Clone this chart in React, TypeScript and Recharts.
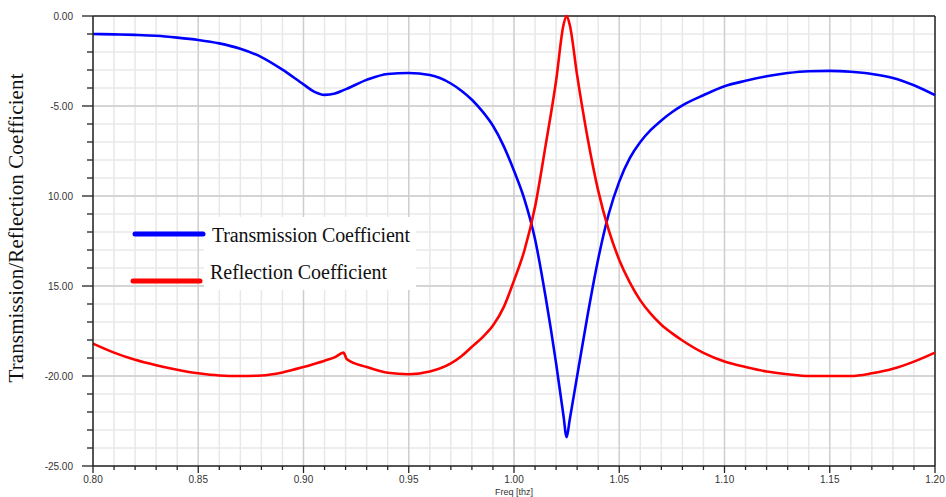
import React from 'react';
import { LineChart, Line, XAxis, YAxis, CartesianGrid, Legend, ReferenceLine } from 'recharts';

// frequency in THz
const freq = [
  0.8, 0.81, 0.82, 0.83, 0.84, 0.85, 0.86, 0.87, 0.88, 0.89, 0.9, 0.905, 0.91, 0.915, 0.919, 0.9205,
  0.93, 0.94, 0.95, 0.96, 0.97, 0.975, 0.98, 0.985, 0.99, 0.995, 1.0, 1.005, 1.01, 1.015, 1.02,
  1.0235, 1.025, 1.0265, 1.03, 1.035, 1.04, 1.045, 1.05, 1.055, 1.06, 1.065, 1.07, 1.075, 1.08,
  1.09, 1.1, 1.11, 1.12, 1.13, 1.14, 1.15, 1.16, 1.17, 1.18, 1.19, 1.2,
];

const transmission = [
  -1.0, -1.02, -1.05, -1.1, -1.2, -1.33, -1.52, -1.82, -2.28, -2.98, -3.8, -4.2, -4.38, -4.3, -4.12, -4.05,
  -3.55, -3.22, -3.17, -3.28, -3.75, -4.15, -4.65, -5.3, -6.1, -7.2, -8.6, -10.2, -12.4, -15.6, -19.3,
  -22.2, -23.4, -22.4, -20.0, -16.6, -13.5, -11.0, -9.2, -7.9, -7.0, -6.33, -5.8, -5.35, -4.97,
  -4.4, -3.9, -3.6, -3.35, -3.17, -3.07, -3.05, -3.1, -3.22, -3.44, -3.85, -4.4,
];

const reflection = [
  -18.2, -18.7, -19.1, -19.4, -19.65, -19.85, -19.97, -20.0, -19.97, -19.8, -19.5, -19.33, -19.15, -18.95, -18.7, -19.05,
  -19.5, -19.82, -19.9, -19.75, -19.3, -18.9, -18.38, -17.85, -17.2, -16.2, -14.7, -13.0, -10.6, -7.2, -3.6,
  -0.5, 0, -0.5, -3.3, -6.8, -9.7, -11.9, -13.55, -14.8, -15.8, -16.55, -17.15, -17.62, -18.03,
  -18.72, -19.2, -19.5, -19.75, -19.9, -20.0, -20.0, -20.0, -19.85, -19.6, -19.2, -18.7,
];

const xDomain = [0.8, 1.2];
const yDomain = [-25, 0];
const xMajor = [0.8, 0.85, 0.9, 0.95, 1.0, 1.05, 1.1, 1.15, 1.2];
const xMajorLabels = ['0.80', '0.85', '0.90', '0.95', '1.00', '1.05', '1.10', '1.15', '1.20'];
const xMinor = Array.from({ length: 41 }, (_, i) => Math.round((0.8 + i * 0.01) * 100) / 100);

const yMajor = [0, -5, -10, -15, -20, -25];
const yMajorLabels = ['0.00', '-5.00', '10.00', '15.00', '-20.00', '-25.00'];
const yMinor = Array.from({ length: 26 }, (_, i) => -i);

const legendOrder = ['Transmission Coefficient', 'Reflection Coefficient'];

const data = freq.map((f, i) => ({ f, t: transmission[i], r: reflection[i] }));

const SANS = "'Liberation Sans', Arial, sans-serif";
const SERIF = "'Liberation Serif', 'Times New Roman', serif";

const XTick = (props: any) => {
  const { x, y, payload } = props;
  const idx = xMajor.findIndex((m) => Math.abs(m - payload.value) < 1e-6);
  const major = idx >= 0;
  return (
    <g>
      <line x1={x} x2={x} y1={y} y2={y + (major ? 7 : 4)} stroke="#222" strokeWidth={1.3} />
      {major && (
        <text x={x} y={y + 17} textAnchor="middle" fontSize={10} fill="#333" fontFamily={SANS}>
          {xMajorLabels[idx]}
        </text>
      )}
    </g>
  );
};

const YTick = (props: any) => {
  const { x, y, payload } = props;
  const idx = yMajor.indexOf(payload.value);
  const major = idx >= 0;
  return (
    <g>
      <line x1={x - (major ? 11 : 6)} x2={x} y1={y} y2={y} stroke="#222" strokeWidth={1.3} />
      {major && (
        <text x={x - 20} y={y} dy={3.5} textAnchor="end" fontSize={10} fill="#333" fontFamily={SANS}>
          {yMajorLabels[idx]}
        </text>
      )}
    </g>
  );
};

const LegendBox = (props: any) => {
  const items = [...(props.payload || [])].sort(
    (a: any, b: any) => legendOrder.indexOf(a.value) - legendOrder.indexOf(b.value)
  );
  const rows = [
    { y: 234, ty: 242, x1: 135, x2: 203, tx: 212, len: 198 },
    { y: 281, ty: 279, x1: 133, x2: 200, tx: 210, len: 177 },
  ];
  return (
    <svg width={946} height={497} style={{ position: 'absolute', left: 0, top: 0 }}>
      <rect x={204} y={217} width={212} height={73} fill="#fff" />
      {items.map((it: any, i: number) => {
        const r = rows[i];
        if (!r) return null;
        return (
          <g key={it.value}>
            <line x1={r.x1} x2={r.x2} y1={r.y} y2={r.y} stroke={it.color} strokeWidth={5} strokeLinecap="round" />
            <text x={r.tx} y={r.ty} fontSize={20} fill="#111" fontFamily={SERIF} textLength={r.len} lengthAdjust="spacing">
              {it.value}
            </text>
          </g>
        );
      })}
    </svg>
  );
};

// major grid positions from the plot offset and the axis domains
const majorXGen = (p: any) => {
  const o = p && p.offset;
  if (!o) return [];
  return xMajor.slice(1, -1).map((v) => o.left + ((v - xDomain[0]) / (xDomain[1] - xDomain[0])) * o.width);
};
const majorYGen = (p: any) => {
  const o = p && p.offset;
  if (!o) return [];
  return yMajor.slice(1, -1).map((v) => o.top + ((yDomain[1] - v) / (yDomain[1] - yDomain[0])) * o.height);
};

export default function App() {
  return (
    <div style={{ position: 'absolute', left: 0, top: 0, width: 946, height: 497, background: '#fff' }}>
      <LineChart width={946} height={497} data={data} margin={{ top: 16, right: 11, bottom: 0, left: 0 }}>
        <CartesianGrid stroke="#e8e8e8" strokeWidth={1.5} />
        <CartesianGrid stroke="#cdcdcd" strokeWidth={1.3} horizontal={false} verticalCoordinatesGenerator={majorXGen} />
        <CartesianGrid stroke="#cdcdcd" strokeWidth={1.3} vertical={false} horizontalCoordinatesGenerator={majorYGen} />
        <XAxis
          dataKey="f"
          type="number"
          domain={xDomain}
          ticks={xMinor}
          interval={0}
          tickSize={0}
          tickMargin={0}
          tickLine={false}
          tick={<XTick />}
          height={31}
          axisLine={{ stroke: '#222', strokeWidth: 1.5 }}
          label={{ value: 'Freq [thz]', position: 'insideBottom', offset: 2, fontSize: 9, fill: '#333', fontFamily: SANS }}
        />
        <YAxis
          type="number"
          domain={yDomain}
          ticks={yMinor}
          interval={0}
          tickSize={0}
          tickMargin={0}
          tickLine={false}
          tick={<YTick />}
          width={93}
          axisLine={{ stroke: '#222', strokeWidth: 1.5 }}
          label={{
            content: () => (
              <text
                x={23}
                y={228}
                transform="rotate(-90, 23, 228)"
                textAnchor="middle"
                fontSize={21}
                fill="#111"
                fontFamily={SERIF}
                textLength={309}
                lengthAdjust="spacing"
              >
                Transmission/Reflection Coefficient
              </text>
            ),
          }}
        />
        <ReferenceLine y={0} stroke="#222" strokeWidth={1.5} />
        <ReferenceLine x={1.2} stroke="#222" strokeWidth={1.5} />
        <Line
          type="monotone"
          dataKey="t"
          name="Transmission Coefficient"
          stroke="#0000ff"
          strokeWidth={2.6}
          dot={false}
          isAnimationActive={false}
        />
        <Line
          type="monotone"
          dataKey="r"
          name="Reflection Coefficient"
          stroke="#ff0000"
          strokeWidth={2.6}
          dot={false}
          isAnimationActive={false}
        />
        <Legend
          layout="vertical"
          verticalAlign="middle"
          align="center"
          wrapperStyle={{ left: 0, top: 0, width: 946, height: 497, pointerEvents: 'none' }}
          content={(p: any) => <LegendBox {...p} />}
        />
      </LineChart>
    </div>
  );
}
